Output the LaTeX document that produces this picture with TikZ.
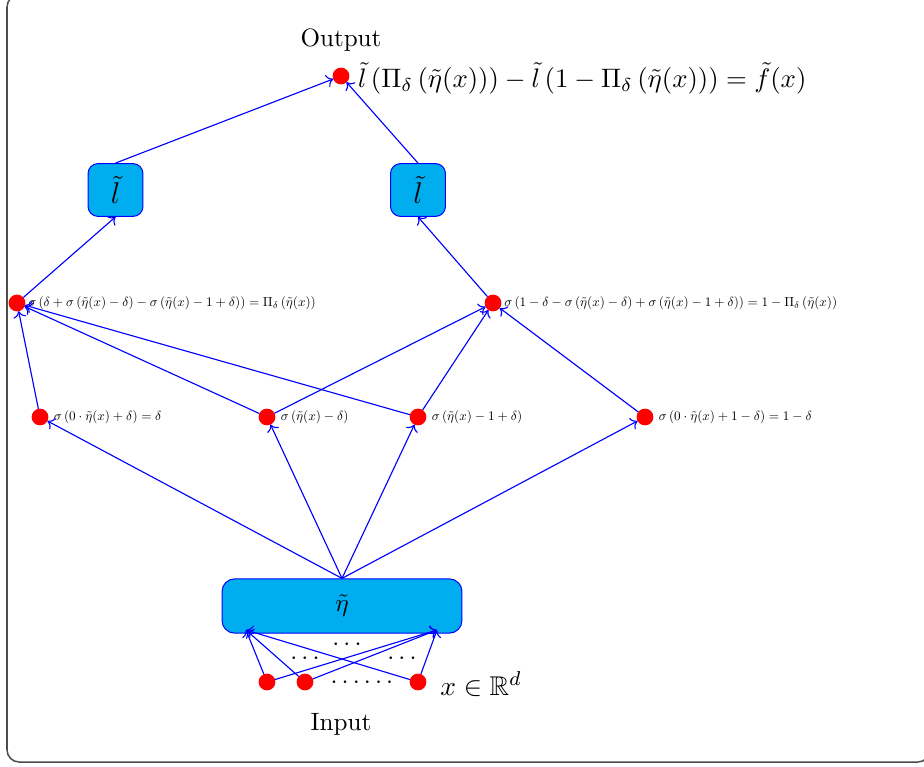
\documentclass[tikz,border=0pt]{standalone}
\usepackage{amsmath,amssymb}
\usepackage{graphicx}
\usepackage{tikz}
\usepackage{xcolor}
\usetikzlibrary{arrows.meta, positioning}
\definecolor{boxcyan}{RGB}{0,174,239}
\newcommand{\neurlab}[1]{\scalebox{0.525}{$#1$}}

\begin{document}
\begin{tikzpicture}[
  x=0.014cm, y=-0.014cm,
  neuron/.style={circle, fill=red, draw=red, inner sep=0pt, minimum size=0.22cm},
  unit/.style={rectangle, rounded corners=4pt, draw=blue, fill=boxcyan,
    minimum width=0.77cm, minimum height=0.74cm, align=center, font=\large},
  wide/.style={unit, rounded corners=5pt, minimum width=3.36cm, minimum height=0.76cm, font=\normalsize},
  lab/.style={anchor=west, inner sep=1pt},
  arr/.style={-{To[length=0.9mm, width=1.8mm]}, draw=blue, line width=0.45pt}
]
\useasboundingbox (0,0) rectangle (924,767);
\draw[black!70, line width=0.6pt, rounded corners=0.17cm] (7,-5) rectangle (930,762);

% output
\node[neuron] (out) at (341,76) {};
\node[anchor=west, inner sep=1pt] (outlab) at (355,78)
  {\scalebox{1.065}{$\tilde{l}\left(\Pi_\delta\left(\tilde{\eta}(x)\right)\right)-\tilde{l}\left(1-\Pi_\delta\left(\tilde{\eta}(x)\right)\right)=\tilde{f}(x)$}};
\node (outtxt) at (341,40) {Output};

% l-tilde units
\node[unit] (ll) at (115.5,190) {$\tilde{l}$};
\node[unit] (lr) at (418,190) {$\tilde{l}$};

% clipped sigmoids
\node[neuron] (pl) at (17,303) {};
\node[neuron] (pr) at (493,303) {};
\node[lab] at (pl.east) {\neurlab{\sigma\left(\delta+\sigma\left(\tilde{\eta}(x)-\delta\right)-\sigma\left(\tilde{\eta}(x)-1+\delta\right)\right)=\Pi_\delta\left(\tilde{\eta}(x)\right)}};
\node[lab] at (pr.east) {\neurlab{\sigma\left(1-\delta-\sigma\left(\tilde{\eta}(x)-\delta\right)+\sigma\left(\tilde{\eta}(x)-1+\delta\right)\right)=1-\Pi_\delta\left(\tilde{\eta}(x)\right)}};

% first hidden layer
\node[neuron] (s1) at (40,417) {};
\node[neuron] (s2) at (267,417) {};
\node[neuron] (s3) at (418,417) {};
\node[neuron] (s4) at (645,417) {};
\node[lab, xshift=1pt] at (s1.east) {\neurlab{\sigma\left(0\cdot\tilde{\eta}(x)+\delta\right)=\delta}};
\node[lab, xshift=1pt] at (s2.east) {\neurlab{\sigma\left(\tilde{\eta}(x)-\delta\right)}};
\node[lab, xshift=1pt] at (s3.east) {\neurlab{\sigma\left(\tilde{\eta}(x)-1+\delta\right)}};
\node[lab, xshift=1pt] at (s4.east) {\neurlab{\sigma\left(0\cdot\tilde{\eta}(x)+1-\delta\right)=1-\delta}};

% eta network and input
\node[wide] (eta) at (342,606) {$\tilde{\eta}$};
\coordinate (etal) at (246,630);
\coordinate (etar) at (437,630);
\node[neuron] (x1) at (267,682) {};
\node[neuron] (x2) at (305,682) {};
\node[neuron] (x3) at (418,682) {};
\node[font=\fontsize{10.8}{13}\selectfont] (xlab) at (481,684) {$x\in\mathbb{R}^d$};
\node (intxt) at (341,724) {Input};
\node (d1) at (349,645) {$\cdots$};
\node (d2) at (307,659) {$\cdots$};
\node (d3) at (404,659) {$\cdots$};
\node (d4) at (364,683) {$\cdots\cdots$};

\foreach \x in {x1,x2,x3} {
  \draw[arr] (\x) -- (etal);
  \draw[arr] (\x) -- (etar);
}
\foreach \s in {s1,s2,s3,s4}
  \draw[arr] (eta.north) -- (\s);
\foreach \s in {s1,s2,s3}
  \draw[arr] (\s) -- (pl);
\foreach \s in {s2,s3,s4}
  \draw[arr] (\s) -- (pr);
\draw[arr] (pl) -- (ll.south);
\draw[arr] (pr) -- (lr.south);
\draw[arr] (ll.north) -- (out);
\draw[arr] (lr.north) -- (out);
\end{tikzpicture}
\end{document}
